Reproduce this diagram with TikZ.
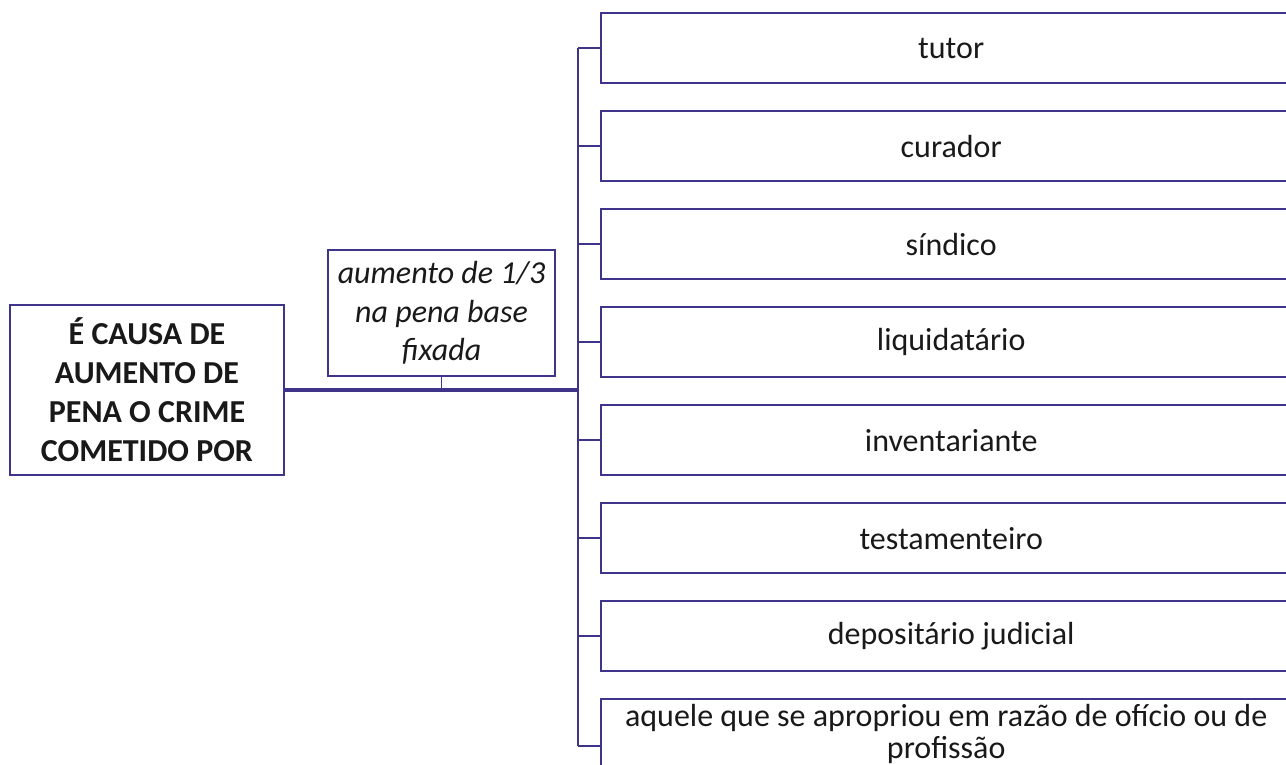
\documentclass[tikz,border=0pt]{standalone}
\usepackage{fontspec}
\setmainfont{Carlito}
\definecolor{frame}{RGB}{62,52,138}
\definecolor{ink}{RGB}{25,25,25}
\begin{document}
\begin{tikzpicture}[x=1pt,y=-1pt,
root/.style = {draw=frame,line width=2.4pt,minimum width=274pt,minimum height=170pt,align=center,text=ink,font=\fontsize{32}{39}\selectfont\bfseries},
rate/.style = {draw=frame,line width=2.4pt,minimum width=227pt,minimum height=126pt,align=center,text=ink,font=\fontsize{32}{38.5}\selectfont\itshape},
itm/.style = {draw=frame,line width=2.4pt,minimum width=700pt,minimum height=70pt,anchor=north west,text=ink,font=\fontsize{32}{35}\selectfont},
lnk/.style = {draw=frame,line width=1.8pt},
trunk/.style = {draw=frame,line width=3.2pt}
]
  \useasboundingbox (0,0) rectangle (1286,765);
  \node[root] (cause) at (147,390) {É CAUSA DE\\AUMENTO DE\\PENA O CRIME\\COMETIDO POR};
  \node[rate] (third) at (441.5,313) {aumento de 1/3\\na pena base\\fixada};
  \coordinate (hub) at (578,390);

  \node[itm] (tutor) at (600,12) {tutor};
  \node[itm] (curador) at (600,110) {curador};
  \node[itm] (sindico) at (600,208) {síndico};
  \node[itm] (liquid) at (600,306) {liquidatário};
  \node[itm] (invent) at (600,404) {inventariante};
  \node[itm] (testam) at (600,502) {testamenteiro};
  \node[itm] (deposit) at (600,600) {depositário judicial};
  \node[itm,minimum width=690pt,align=center,inner sep=1pt,font=\fontsize{32}{32}\selectfont] (aquele) at (600,698) {aquele que se apropriou em razão de ofício ou de\\profissão};
  \path[draw=frame,line width=2.4pt] (aquele.north east) -- ++(20,0);
  \coordinate (aqtick) at ([yshift=-12pt]aquele.west);

  \path[trunk] (cause.east) -- (hub);
  \path[lnk] (third.south) -- (third.south |- hub);
  \path[lnk] (hub |- tutor.west) -- (hub |- aqtick);

  \path[lnk] (hub |- tutor.west) -- (tutor.west);
  \path[lnk] (hub |- curador.west) -- (curador.west);
  \path[lnk] (hub |- sindico.west) -- (sindico.west);
  \path[lnk] (hub |- liquid.west) -- (liquid.west);
  \path[lnk] (hub |- invent.west) -- (invent.west);
  \path[lnk] (hub |- testam.west) -- (testam.west);
  \path[lnk] (hub |- deposit.west) -- (deposit.west);
  \path[lnk] (hub |- aqtick) -- (aqtick);

\end{tikzpicture}
\end{document}
